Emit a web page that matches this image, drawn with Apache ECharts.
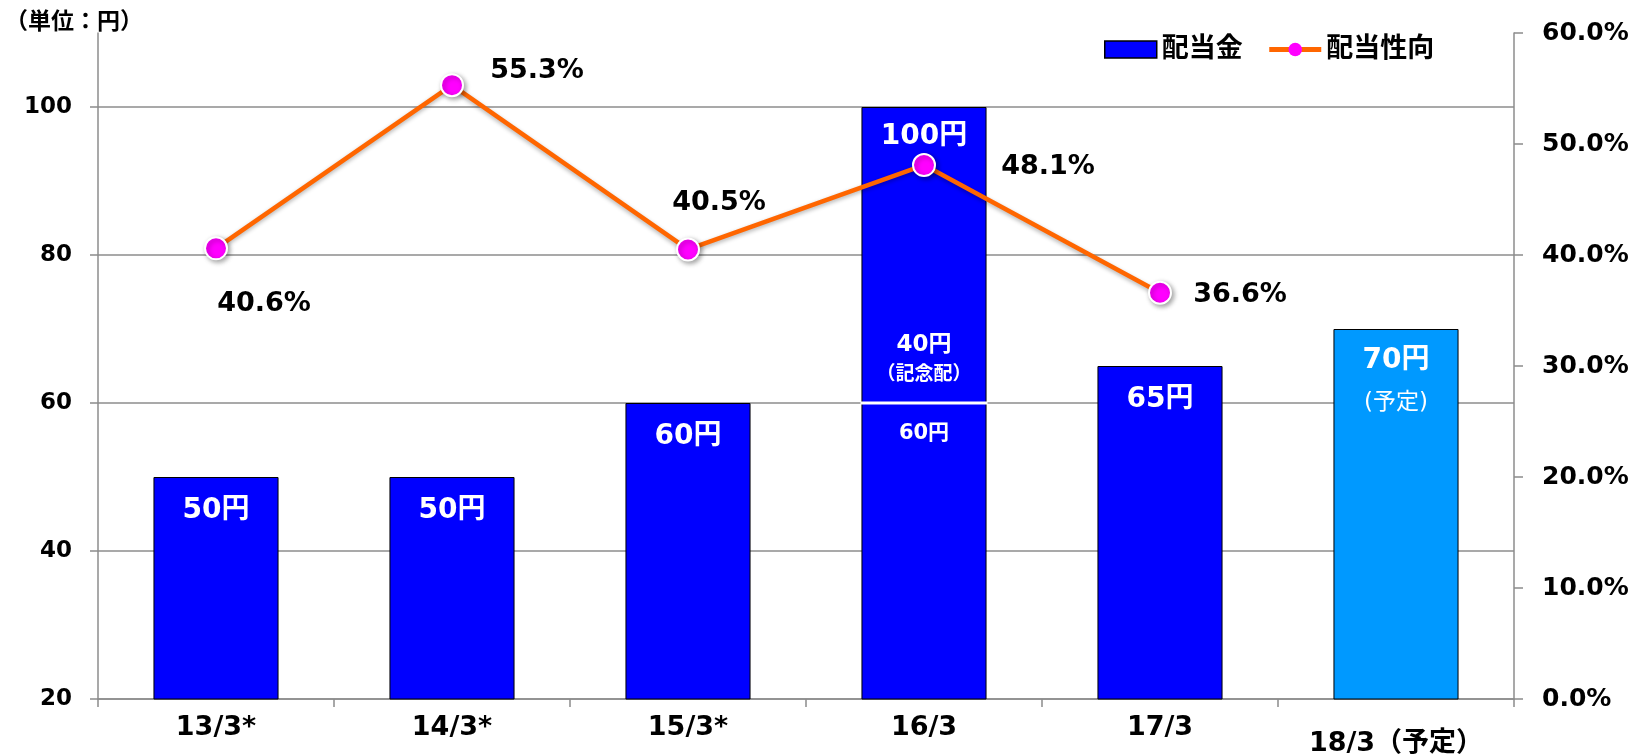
<!DOCTYPE html>
<html>
<head>
<meta charset="utf-8">
<script src="https://cdn.jsdelivr.net/npm/echarts@6/dist/echarts.min.js"></script>
<style>
html,body{margin:0;padding:0;background:#fff;}
#chart{width:1651px;height:754px;}
</style>
</head>
<body>
<div id="chart"></div>
<script>
const categories = ['13/3*', '14/3*', '15/3*', '16/3', '17/3', '18/3（予定）'];
const dividendBase = [50, 50, 60, 60, 65, 70];
const commemorative = [null, null, null, 40, null, null];
const payoutRatio = [40.6, 55.3, 40.5, 48.1, 36.6, null];
const isForecast = [false, false, false, false, false, true];
const leftTicks = [20, 40, 60, 80, 100];
const ratioLabelOffsets = [[48, 56], [85, -14], [31, -46], [124, 2], [80, 2]];

const FONT = "'DejaVu Sans', 'Noto Sans CJK JP', sans-serif";
const BLUE = '#0000FF';
const LIGHT = '#0099FF';
const GRAY = '#8c8c8c';
const BAR_W = 0.53;

const chart = echarts.init(document.getElementById('chart'));

const baseData = dividendBase.map((v, i) => {
  const item = { value: v, itemStyle: { color: isForecast[i] ? LIGHT : BLUE } };
  if (isForecast[i]) {
    item.label = { distance: 10, formatter: '{a|' + v + '円}\n{b|(予定)}' };
  } else if (commemorative[i] != null) {
    item.label = { formatter: '{s|' + v + '円}' };
  }
  return item;
});
const totalData = dividendBase.map((v, i) => commemorative[i] != null ? v + commemorative[i] : null);
const sepData = [];
dividendBase.forEach((v, i) => { if (commemorative[i] != null) sepData.push([i, v]); });

const option = {
  animation: false,
  backgroundColor: '#fff',
  textStyle: { fontFamily: FONT },
  title: {
    text: '（単位：円）', left: 0, top: 7,
    textStyle: { fontFamily: FONT, fontSize: 23, fontWeight: 'bold', color: '#000' }
  },
  legend: {
    left: 1099, top: 31,
    itemWidth: 52, itemHeight: 17, itemGap: 24,
    data: [
      { name: '配当金', icon: 'rect', itemStyle: { color: BLUE, borderColor: '#000', borderWidth: 1.5 } },
      { name: '配当性向', lineStyle: { width: 5, color: '#FF6600' }, itemStyle: { color: '#FF00FF', borderWidth: 0 } }
    ],
    textStyle: { fontFamily: FONT, fontSize: 27, fontWeight: 'bold', color: '#000' }
  },
  grid: { left: 98, right: 137, top: 33, bottom: 55, containLabel: false, outerBoundsMode: 'none' },
  xAxis: {
    type: 'category',
    data: categories,
    axisLine: { lineStyle: { color: GRAY, width: 1.5 } },
    axisTick: { show: true, length: 8, interval: 0, lineStyle: { color: GRAY, width: 1.5 } },
    axisLabel: {
      interval: 0, margin: 15, color: '#000', fontFamily: FONT, fontSize: 27, fontWeight: 'bold',
      formatter: (v, i) => isForecast[i] ? '{f|' + v + '}' : v,
      rich: { f: { fontFamily: FONT, fontSize: 27, fontWeight: 'bold', color: '#000', padding: [16, 0, 0, 0] } }
    }
  },
  yAxis: [{
    type: 'value', min: 20, max: 110, interval: 20,
    axisLine: { show: true, lineStyle: { color: GRAY, width: 1.5 } },
    axisTick: { show: true, length: 8, customValues: leftTicks, lineStyle: { color: GRAY, width: 1.5 } },
    axisLabel: { customValues: leftTicks, margin: 26, color: '#000', fontFamily: FONT, fontSize: 23, fontWeight: 'bold' },
    splitLine: { show: true, lineStyle: { color: [GRAY, GRAY, GRAY, GRAY, GRAY, 'rgba(0,0,0,0)'], width: 1.5 } }
  }, {
    type: 'value', min: 0, max: 60, interval: 10, position: 'right',
    axisLine: { show: true, lineStyle: { color: GRAY, width: 1.5 } },
    axisTick: { show: true, length: 9, lineStyle: { color: GRAY, width: 1.5 } },
    axisLabel: { margin: 28, color: '#000', fontFamily: FONT, fontSize: 25, fontWeight: 'bold', formatter: v => v.toFixed(1) + '%' },
    splitLine: { show: false }
  }],
  series: [{
    name: '配当金', type: 'bar', stack: 'div', barWidth: (BAR_W * 100) + '%', barGap: '-100%',
    itemStyle: { color: BLUE, borderColor: '#000', borderWidth: 1 },
    label: {
      show: true, position: 'insideTop', distance: 20, color: '#fff',
      fontFamily: FONT, fontSize: 28, fontWeight: 'bold', formatter: '{c}円',
      rich: {
        a: { fontFamily: FONT, fontSize: 28, fontWeight: 'bold', color: '#fff', lineHeight: 43 },
        b: { fontFamily: FONT, fontSize: 23, fontWeight: 'normal', color: '#fff', lineHeight: 43 },
        s: { fontFamily: FONT, fontSize: 21, fontWeight: 'bold', color: '#fff' }
      }
    },
    data: baseData, z: 2
  }, {
    name: '配当金', type: 'bar', stack: 'div', barWidth: (BAR_W * 100) + '%',
    itemStyle: { color: BLUE, borderColor: '#000', borderWidth: 1 },
    label: {
      show: true, position: 'insideBottom', distance: 13, color: '#fff',
      formatter: p => '{a|' + p.value + '円}\n{b|（記念配）}',
      rich: {
        a: { fontFamily: FONT, fontSize: 23, fontWeight: 'bold', color: '#fff', lineHeight: 30 },
        b: { fontFamily: FONT, fontSize: 19, fontWeight: 'bold', color: '#fff', lineHeight: 30 }
      }
    },
    data: commemorative, z: 2
  }, {
    name: 'total', type: 'bar', barWidth: (BAR_W * 100) + '%', silent: true,
    itemStyle: { color: 'rgba(0,0,0,0)' },
    label: {
      show: true, position: 'insideTop', distance: 16, color: '#fff',
      fontFamily: FONT, fontSize: 28, fontWeight: 'bold', formatter: '{c}円'
    },
    data: totalData, z: 3
  }, {
    name: 'sep', type: 'custom', silent: true, z: 4,
    renderItem: (params, api) => {
      const c = api.coord([api.value(0), api.value(1)]);
      const w = api.size([1, 0])[0] * BAR_W;
      return { type: 'line', shape: { x1: c[0] - w / 2 - 1, y1: c[1], x2: c[0] + w / 2 + 1, y2: c[1] }, style: { stroke: '#fff', lineWidth: 3 } };
    },
    data: sepData
  }, {
    name: '配当性向', type: 'line', yAxisIndex: 1, z: 10,
    symbol: 'circle', symbolSize: 22,
    lineStyle: { color: '#FF6600', width: 4.5, shadowColor: 'rgba(0,0,0,0.3)', shadowBlur: 4, shadowOffsetY: 2 },
    itemStyle: { color: '#FF00FF', borderColor: '#fff', borderWidth: 2, shadowColor: 'rgba(0,0,0,0.35)', shadowBlur: 5, shadowOffsetX: 2, shadowOffsetY: 2 },
    label: { show: true, position: 'inside', color: '#000', fontFamily: FONT, fontSize: 27, fontWeight: 'bold', formatter: p => p.value.toFixed(1) + '%' },
    data: payoutRatio.map((v, i) => v == null ? null : { value: v, label: { offset: ratioLabelOffsets[i] } })
  }]
};
chart.setOption(option);
</script>
</body>
</html>
